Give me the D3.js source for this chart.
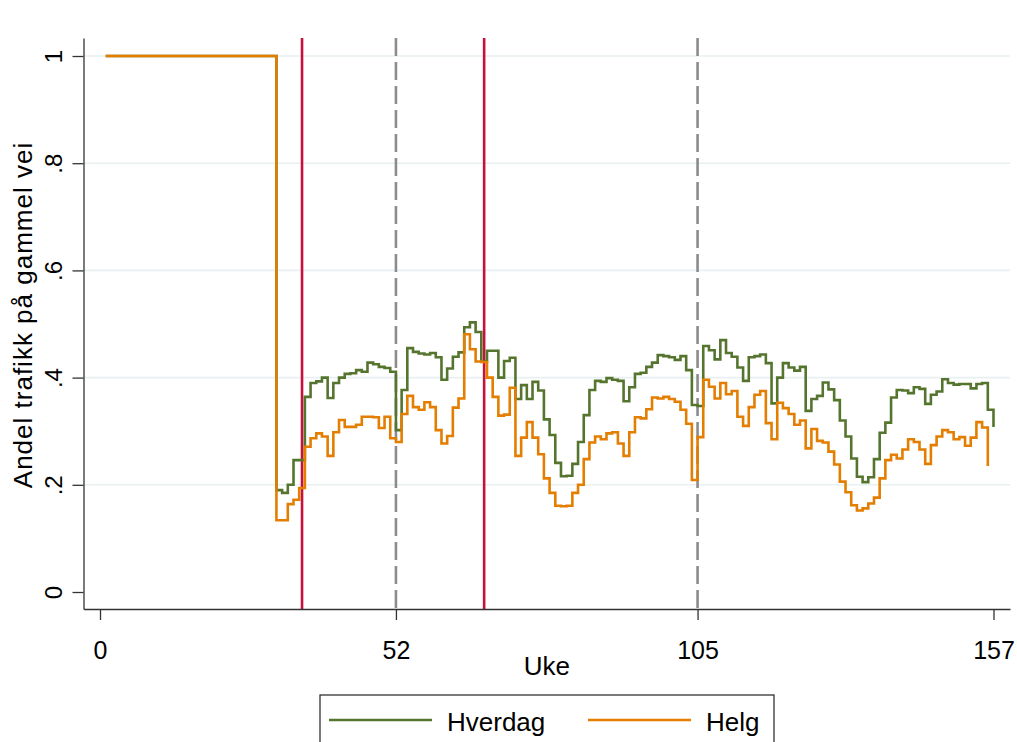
<!DOCTYPE html>
<html>
<head>
<meta charset="utf-8">
<script src="https://cdn.jsdelivr.net/npm/d3@7"></script>
<style>
  body { margin: 0; background: #fff; }
  svg { display: block; font-family: "Liberation Sans", Arial, sans-serif; }
</style>
</head>
<body>
<svg id="chart" width="1017" height="742"></svg>
<script>
// Share of traffic on the old road, by week (starting at week 1)
const hverdag = [
  1, 1, 1, 1, 1, 1, 1, 1, 1, 1, 1, 1, 1, 1, 1, 1, 1, 1, 1, 1,
  1, 1, 1, 1, 1, 1, 1, 1, 1, 1,
  0.19, 0.185, 0.20, 0.246, 0.246, 0.364, 0.39, 0.393, 0.40, 0.362,
  0.39, 0.40, 0.407, 0.408, 0.414, 0.411, 0.428, 0.425, 0.42, 0.418,
  0.411, 0.302, 0.377, 0.455, 0.448, 0.445, 0.443, 0.446, 0.438, 0.396,
  0.417, 0.439, 0.447, 0.494, 0.503, 0.485, 0.43, 0.45, 0.45, 0.40,
  0.431, 0.437, 0.36, 0.386, 0.36, 0.392, 0.376, 0.322, 0.293, 0.241,
  0.216, 0.217, 0.239, 0.28, 0.33, 0.377, 0.394, 0.392, 0.399, 0.396,
  0.394, 0.356, 0.382, 0.407, 0.409, 0.42, 0.428, 0.442, 0.44, 0.438,
  0.433, 0.44, 0.414, 0.349, 0.347, 0.459, 0.451, 0.434, 0.47, 0.446,
  0.439, 0.419, 0.394, 0.438, 0.44, 0.443, 0.427, 0.352, 0.40, 0.427,
  0.419, 0.413, 0.42, 0.338, 0.36, 0.366, 0.391, 0.378, 0.358, 0.32,
  0.29, 0.249, 0.215, 0.205, 0.214, 0.248, 0.297, 0.316, 0.363, 0.377,
  0.376, 0.371, 0.382, 0.379, 0.351, 0.368, 0.374, 0.397, 0.39, 0.387,
  0.388, 0.388, 0.38, 0.388, 0.39, 0.34, 0.308
];

const helg = [
  1, 1, 1, 1, 1, 1, 1, 1, 1, 1, 1, 1, 1, 1, 1, 1, 1, 1, 1, 1,
  1, 1, 1, 1, 1, 1, 1, 1, 1, 1,
  0.134, 0.134, 0.164, 0.172, 0.194, 0.271, 0.287, 0.296, 0.29, 0.254,
  0.298, 0.321, 0.308, 0.308, 0.312, 0.327, 0.327, 0.326, 0.306, 0.327,
  0.287, 0.28, 0.332, 0.366, 0.345, 0.34, 0.354, 0.345, 0.302, 0.277,
  0.291, 0.344, 0.361, 0.481, 0.453, 0.43, 0.429, 0.40, 0.364, 0.329,
  0.331, 0.381, 0.254, 0.288, 0.317, 0.288, 0.257, 0.212, 0.185, 0.161,
  0.16, 0.161, 0.185, 0.20, 0.248, 0.279, 0.29, 0.285, 0.296, 0.298,
  0.277, 0.254, 0.298, 0.326, 0.324, 0.341, 0.363, 0.361, 0.364, 0.36,
  0.355, 0.34, 0.314, 0.209, 0.289, 0.396, 0.383, 0.361, 0.39, 0.369,
  0.375, 0.327, 0.31, 0.345, 0.368, 0.375, 0.315, 0.285, 0.353, 0.343,
  0.332, 0.312, 0.32, 0.268, 0.304, 0.282, 0.279, 0.262, 0.238, 0.206,
  0.186, 0.162, 0.152, 0.156, 0.165, 0.176, 0.212, 0.246, 0.256, 0.249,
  0.266, 0.285, 0.28, 0.266, 0.239, 0.274, 0.29, 0.302, 0.298, 0.285,
  0.289, 0.273, 0.288, 0.317, 0.307, 0.235
];

const xTicks = [0, 52, 105, 157];
const yTicks = [0, 0.2, 0.4, 0.6, 0.8, 1];
const yTickLabels = ["0", ".2", ".4", ".6", ".8", "1"];
const redLines = [35.5, 67.5];     // solid vertical markers
const yearLines = [52, 105];       // dashed year boundaries

const seriesNames = ["Hverdag", "Helg"];
const colors = { Hverdag: "#55752f", Helg: "#e37e00" };

const svg = d3.select("#chart");

// plot region
const plotLeft = 83.5, plotRight = 1010, plotTop = 38, plotBottom = 609;

const x = d3.scaleLinear().domain([-2.9, 159.9]).range([plotLeft, plotRight]);
const y = d3.scaleLinear().domain([-0.0317, 1.0336]).range([plotBottom, plotTop]);

// grid lines (no line at zero)
svg.append("g")
  .selectAll("line")
  .data(yTicks.filter(d => d > 0))
  .enter().append("line")
  .attr("x1", plotLeft).attr("x2", plotRight)
  .attr("y1", d => y(d)).attr("y2", d => y(d))
  .attr("stroke", "#e8f0f2")
  .attr("stroke-width", 1.6);

// dashed year lines
svg.append("g")
  .selectAll("line")
  .data(yearLines)
  .enter().append("line")
  .attr("x1", d => x(d)).attr("x2", d => x(d))
  .attr("y1", plotTop).attr("y2", plotBottom)
  .attr("stroke", "#8c8c8c")
  .attr("stroke-width", 2.6)
  .attr("stroke-dasharray", "18,6");

// red markers
svg.append("g")
  .selectAll("line")
  .data(redLines)
  .enter().append("line")
  .attr("x1", d => x(d)).attr("x2", d => x(d))
  .attr("y1", plotTop).attr("y2", plotBottom)
  .attr("stroke", "#c8103c")
  .attr("stroke-width", 2.6);

// the two step series
const line = d3.line()
  .x((d, i) => x(i + 1))
  .y(d => y(d))
  .curve(d3.curveStepAfter);

[hverdag, helg].forEach((vals, k) => {
  svg.append("path")
    .datum(vals)
    .attr("d", line)
    .attr("fill", "none")
    .attr("stroke", colors[seriesNames[k]])
    .attr("stroke-width", 2.6);
});

// x axis
const xAxis = svg.append("g")
  .attr("transform", `translate(0,${plotBottom})`)
  .call(d3.axisBottom(x).tickValues(xTicks).tickSize(11).tickSizeOuter(0).tickPadding(21));
xAxis.select(".domain").attr("stroke", "#333").attr("stroke-width", 1.3);
xAxis.selectAll(".tick line").attr("stroke", "#333").attr("stroke-width", 1.3);
xAxis.selectAll(".tick text").attr("font-size", 25).attr("fill", "#000");

// y axis
const yAxis = svg.append("g")
  .attr("transform", `translate(${plotLeft},0)`)
  .call(d3.axisLeft(y).tickValues(yTicks).tickSize(11).tickSizeOuter(0)
    .tickFormat((d, i) => yTickLabels[i]));
yAxis.select(".domain").attr("stroke", "#333").attr("stroke-width", 1.3);
yAxis.selectAll(".tick line").attr("stroke", "#333").attr("stroke-width", 1.3);
yAxis.selectAll(".tick text")
  .attr("x", null).attr("dy", null)
  .attr("transform", "translate(-21.5,0) rotate(-90)")
  .attr("text-anchor", "middle")
  .attr("font-size", 24).attr("fill", "#000");

// axis titles
svg.append("text")
  .attr("x", (plotLeft + plotRight) / 2).attr("y", 675)
  .attr("text-anchor", "middle")
  .attr("font-size", 26)
  .text("Uke");

svg.append("text")
  .attr("transform", "translate(32,315) rotate(-90)")
  .attr("text-anchor", "middle")
  .attr("font-size", 26)
  .attr("letter-spacing", 1)
  .text("Andel trafikk på gammel vei");

// legend
const legend = svg.append("g");
legend.append("rect")
  .attr("x", 320).attr("y", 695)
  .attr("width", 454).attr("height", 80)
  .attr("fill", "#fff")
  .attr("stroke", "#222")
  .attr("stroke-width", 1.2);

const legendX = [329, 588];
seriesNames.forEach((name, i) => {
  legend.append("line")
    .attr("x1", legendX[i]).attr("x2", legendX[i] + 103)
    .attr("y1", 720).attr("y2", 720)
    .attr("stroke", colors[name])
    .attr("stroke-width", 2.6);
  legend.append("text")
    .attr("x", legendX[i] + 118).attr("y", 731)
    .attr("font-size", 26)
    .text(name);
});
</script>
</body>
</html>
